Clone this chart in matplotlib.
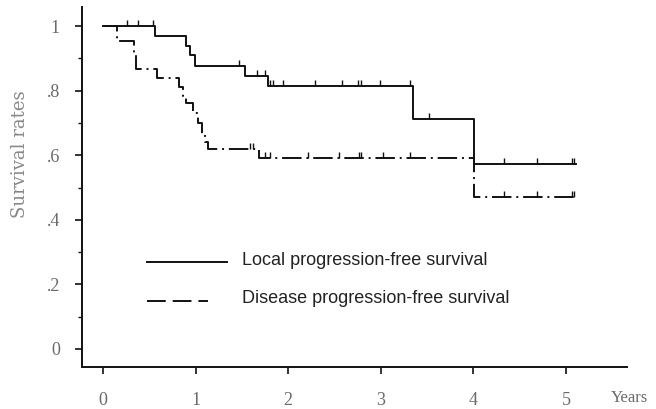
import matplotlib.pyplot as plt
from matplotlib.ticker import MultipleLocator

plt.rcParams['lines.scale_dashes'] = False

# Kaplan-Meier steps: (time in years, survival after the step)
local_t = [0, 0.56, 0.90, 0.94, 0.99, 1.53, 1.78, 3.35, 4.01, 5.11]
local_s = [1.0, 0.970, 0.939, 0.909, 0.876, 0.845, 0.814, 0.711, 0.573, 0.573]
local_cens = [0.26, 0.38, 0.54, 1.47, 1.66, 1.75, 1.80, 1.84, 1.94, 2.29, 2.58,
              2.75, 2.79, 2.99, 3.32, 3.52, 4.33, 4.69, 5.06, 5.09]

disease_t = [0, 0.15, 0.33, 0.36, 0.58, 0.82, 0.86, 0.90, 0.97, 1.03, 1.07,
             1.10, 1.13, 1.68, 4.01, 5.11]
disease_s = [1.0, 0.955, 0.91, 0.867, 0.84, 0.81, 0.785, 0.762, 0.73, 0.70,
             0.665, 0.642, 0.62, 0.59, 0.472, 0.472]
disease_cens = [1.59, 1.62, 1.75, 1.80, 2.21, 2.55, 2.76, 2.79, 3.02, 3.32,
                4.33, 4.69, 5.06, 5.09]

x_ticks = [0, 1, 2, 3, 4, 5]
y_ticks = [0, 0.2, 0.4, 0.6, 0.8, 1.0]
y_labels = ['0', '.2', '.4', '.6', '.8', '1']

dash_curve = (0, (14, 3.5, 1.4, 3.5))
dash_legend = (0, (13.5, 5))


def step_value(ts, ss, x):
    v = ss[0]
    for t, s in zip(ts, ss):
        if t <= x:
            v = s
    return v


fig = plt.figure(figsize=(6.56, 4.09), dpi=100)
ax = fig.add_axes([0.125, 0.1027, 0.831, 0.880])

ax.step(local_t, local_s, where='post', color='#111111', lw=1.4)
ax.step(disease_t, disease_s, where='post', color='#111111', lw=1.4,
        linestyle=dash_curve)

# censoring ticks (pointing up from the curve)
ax.plot(local_cens, [step_value(local_t, local_s, c) for c in local_cens],
        linestyle='none', marker=2, ms=4, mew=1.0, color='#111111')
ax.plot(disease_cens, [step_value(disease_t, disease_s, c) for c in disease_cens],
        linestyle='none', marker=2, ms=4, mew=1.0, color='#111111')

ax.set_xlim(-0.227, 5.66)
ax.set_ylim(-0.056, 1.059)

for s in ['top', 'right']:
    ax.spines[s].set_visible(False)
for s in ['left', 'bottom']:
    ax.spines[s].set_linewidth(1.4)
    ax.spines[s].set_color('#111111')

tick_font = dict(family='Liberation Serif', size=13, color='#6a6a6a')
ax.set_xticks(x_ticks)
ax.set_xticklabels([str(x) for x in x_ticks], **tick_font)
ax.set_yticks(y_ticks)
ax.set_yticklabels(y_labels, **tick_font)
ax.yaxis.set_minor_locator(MultipleLocator(0.1))
ax.tick_params(axis='x', direction='out', length=5, width=1.2, pad=13, color='#111111')
ax.tick_params(axis='y', which='major', direction='out', length=5, width=1.2,
               pad=11, color='#111111')
ax.tick_params(axis='y', which='minor', direction='out', length=3, width=1.0,
               color='#111111')

fig.text(629 / 656, 1 - 398 / 409, 'Years', ha='center', va='center',
         family='Liberation Serif', size=12, color='#6a6a6a')
fig.text(20 / 656, 1 - 154 / 409, 'Survival rates', ha='center', va='center',
         rotation=90, family='DejaVu Serif', size=13, color='#888888')

# legend drawn by hand (two handles of different length as in the original)
ax.plot([0.119, 0.266], [0.2925, 0.2925], transform=ax.transAxes,
        color='#111111', lw=1.4)
ax.plot([0.119, 0.231], [0.184, 0.184], transform=ax.transAxes,
        color='#111111', lw=1.4, linestyle=dash_legend)
leg_font = dict(family='Liberation Sans', size=13, color='#222222',
                va='center', ha='left', transform=ax.transAxes)
ax.text(0.293, 0.297, 'Local progression-free survival', **leg_font)
ax.text(0.293, 0.189, 'Disease progression-free survival', **leg_font)

fig.savefig('out.png', dpi=100)
